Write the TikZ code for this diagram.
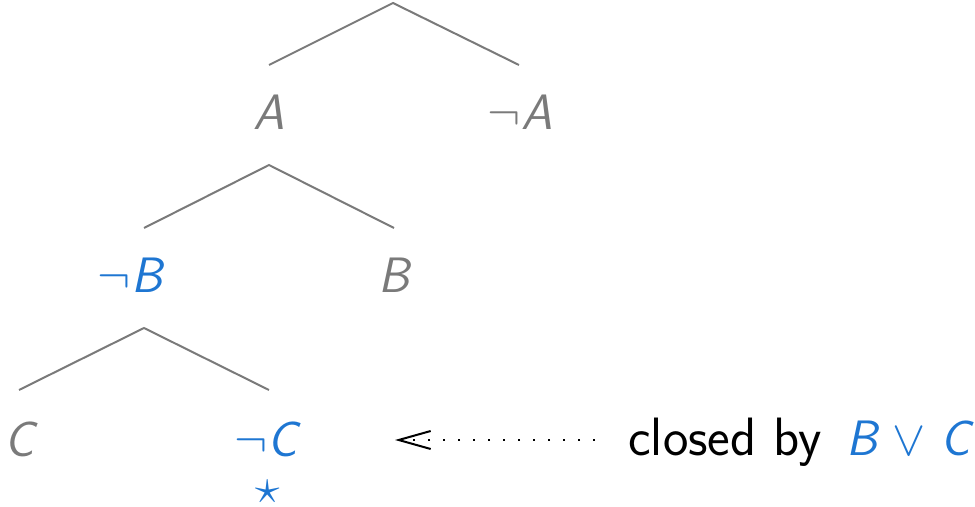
\documentclass[tikz,border=0pt]{standalone}
\usetikzlibrary{arrows.meta}
\definecolor{treegray}{RGB}{122,122,122}
\definecolor{closeblue}{RGB}{30,118,210}
\begin{document}
\begin{tikzpicture}[x=0.5pt,y=-0.5pt,
  branch/.style={draw=treegray,line width=1pt},
  lit/.style={inner sep=0pt,anchor=base,font=\Huge\sffamily\itshape},
  gray lit/.style={lit,text=treegray},
  blue lit/.style={lit,text=closeblue}]
\useasboundingbox (0,0) rectangle (975,507);
% level 1
\coordinate (r0) at (393,3);
\coordinate (e1) at (269,65);
\coordinate (e2) at (519,65);
\draw[branch] (e1) -- (r0) -- (e2);
\node[gray lit] (a) at (269,130) {A};
\node[gray lit] (na) at (520,130) {$\neg$A};
% level 2
\coordinate (r1) at (269,165);
\coordinate (e3) at (144,228);
\coordinate (e4) at (394,228);
\draw[branch] (e3) -- (r1) -- (e4);
\node[blue lit] (nb) at (130,293) {$\neg$B};
\node[gray lit] (b) at (394,293) {B};
% level 3
\coordinate (r2) at (144,328);
\coordinate (e5) at (19,390);
\coordinate (e6) at (269,390);
\draw[branch] (e5) -- (r2) -- (e6);
\node[gray lit] (c) at (19,457) {C};
\node[blue lit] (nc) at (266,457) {$\neg$C};
\node[text=closeblue,font=\Huge,inner sep=0pt] (star) at (268,492) {$\star$};
% closing clause
\node[inner sep=0pt,anchor=base west,font=\fontsize{27}{32}\selectfont\sffamily] (why) at (628,456)
  {closed by};
\node[blue lit,anchor=base west] (clause) at (846,456) {B\hspace{0.3em}$\vee$\hspace{0.3em}C};
\coordinate (tip) at (395,440);
\coordinate (tail) at (595,440);
\draw[line width=1pt,dash pattern=on 1pt off 6.5pt,
  -{Straight Barb[length=16pt,width=9pt,line width=1pt]}] (tail) -- (tip);
\end{tikzpicture}
\end{document}
